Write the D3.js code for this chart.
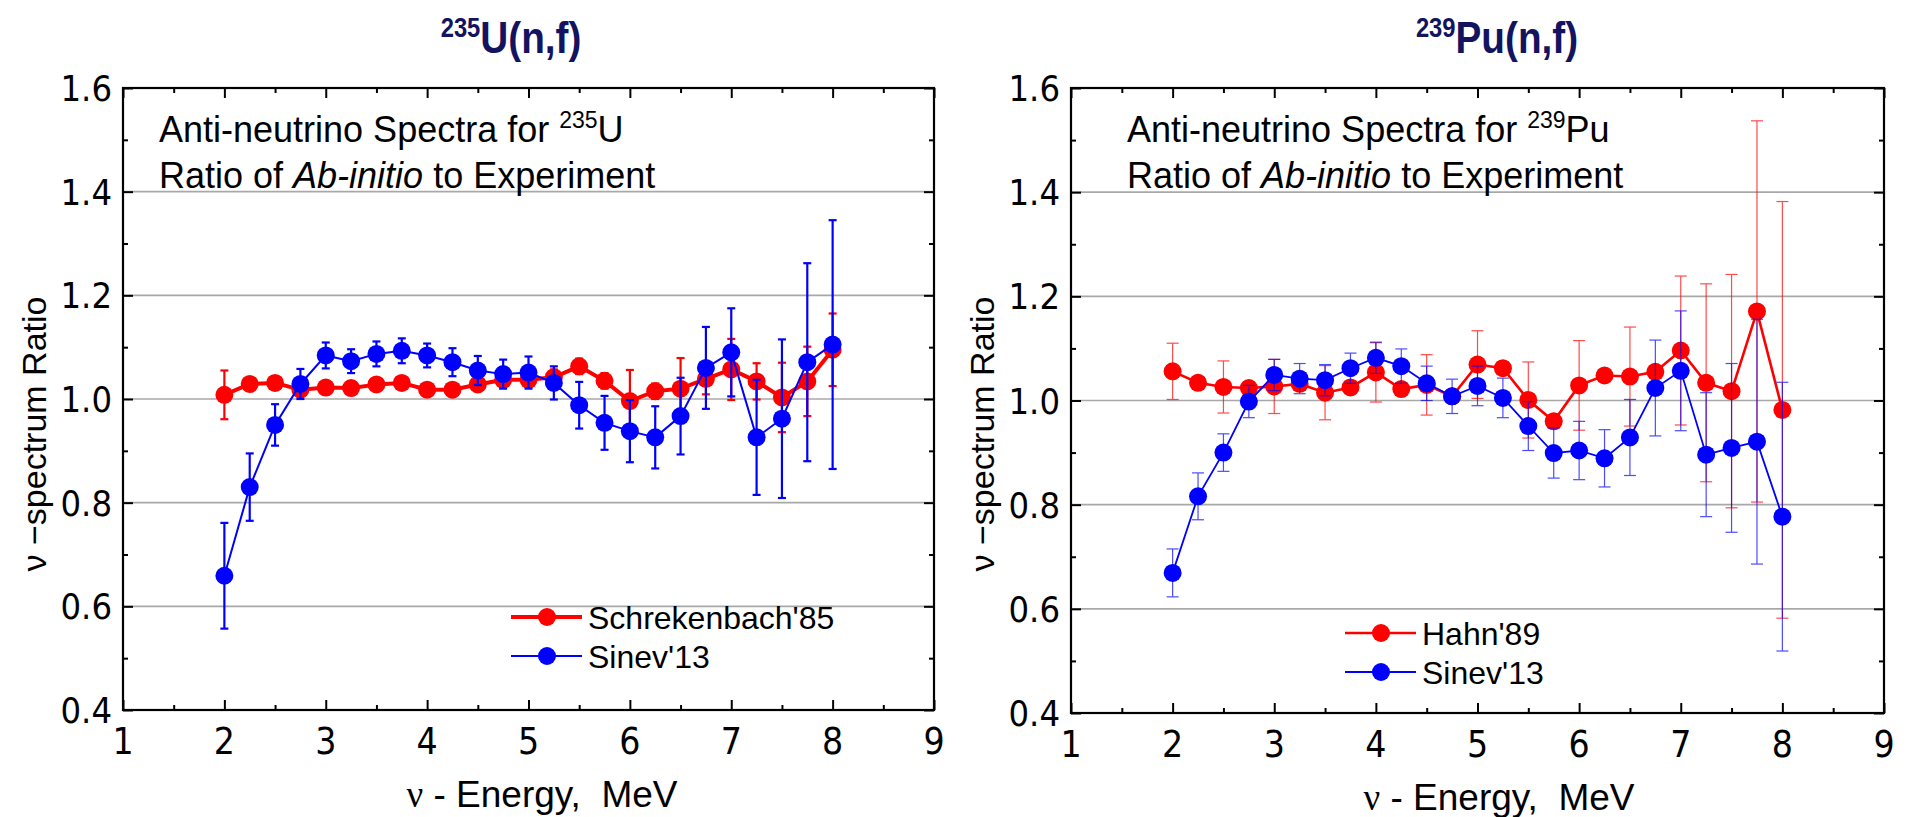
<!DOCTYPE html>
<html>
<head>
<meta charset="utf-8">
<script src="https://cdn.jsdelivr.net/npm/d3@7"></script>
<style>
  body { margin: 0; background: #fff; }
  svg { display: block; font-family: "Liberation Sans", Arial, sans-serif; }
  .narrow { font-family: "Liberation Sans Narrow", "Arial Narrow", "DejaVu Sans Condensed", sans-serif; }
</style>
</head>
<body>
<svg width="1907" height="817"></svg>
<script>
// energies (MeV)
const energy = [2, 2.25, 2.5, 2.75, 3, 3.25, 3.5, 3.75, 4, 4.25, 4.5, 4.75, 5,
  5.25, 5.5, 5.75, 6, 6.25, 6.5, 6.75, 7, 7.25, 7.5, 7.75, 8];

// 235U ratios
const u235Schreck = [1.008, 1.029, 1.031, 1.018, 1.022, 1.021, 1.028, 1.031, 1.018, 1.018, 1.028, 1.037, 1.037,
  1.042, 1.063, 1.035, 0.996, 1.015, 1.020, 1.039, 1.057, 1.034, 1.003, 1.034, 1.095];
const u235SchreckErr = [0.047, 0.008, 0.008, 0.008, 0.008, 0.008, 0.008, 0.008, 0.008, 0.008, 0.008, 0.010, 0.012,
  0.015, 0.015, 0.015, 0.060, 0.015, 0.059, 0.030, 0.059, 0.035, 0.067, 0.067, 0.070];
const u235Sinev = [0.659, 0.830, 0.950, 1.029, 1.084, 1.073, 1.087, 1.093, 1.084, 1.071, 1.055, 1.048, 1.051,
  1.031, 0.988, 0.954, 0.938, 0.926, 0.967, 1.060, 1.090, 0.926, 0.962, 1.071, 1.105];
const u235SinevErr = [0.102, 0.065, 0.040, 0.029, 0.025, 0.023, 0.024, 0.024, 0.023, 0.027, 0.028, 0.028, 0.031,
  0.032, 0.045, 0.052, 0.060, 0.060, 0.074, 0.079, 0.085, 0.111, 0.153, 0.191, 0.240];

// 239Pu ratios
const pu239Hahn = [1.056, 1.034, 1.026, 1.024, 1.027, 1.032, 1.015, 1.025, 1.054, 1.022, 1.030, 1.008, 1.069,
  1.062, 1.001, 0.960, 1.029, 1.048, 1.046, 1.055, 1.096, 1.034, 1.018, 1.171, 0.982];
const pu239HahnErr = [0.054, 0.012, 0.050, 0.012, 0.052, 0.012, 0.052, 0.012, 0.057, 0.012, 0.058, 0.012, 0.065,
  0.012, 0.073, 0.012, 0.086, 0.012, 0.095, 0.012, 0.143, 0.190, 0.224, 0.366, 0.400];
const pu239Sinev = [0.669, 0.816, 0.900, 0.998, 1.049, 1.042, 1.039, 1.062, 1.082, 1.066, 1.033, 1.008, 1.028,
  1.005, 0.951, 0.899, 0.904, 0.889, 0.929, 1.024, 1.057, 0.896, 0.909, 0.921, 0.777];
const pu239SinevErr = [0.046, 0.045, 0.036, 0.031, 0.030, 0.029, 0.030, 0.029, 0.030, 0.033, 0.033, 0.033, 0.038,
  0.038, 0.047, 0.048, 0.056, 0.055, 0.073, 0.092, 0.115, 0.119, 0.162, 0.235, 0.258];

// axis ticks
const xTicks = [1, 2, 3, 4, 5, 6, 7, 8, 9];
const yTicks = [0.4, 0.6, 0.8, 1.0, 1.2, 1.4, 1.6];
const gridVals = [0.6, 0.8, 1.0, 1.2, 1.4];

const svg = d3.select("svg");
const RED = "#ff0000", BLUE = "#0000ff";

const panels = [
  { left: 123, right: 934, top: 88, bottom: 710, mass: "235", el: "U",
    titleX: 511, noteX: 159, xlabX: 542, legendX: 511, legendY: 617,
    series: [
      { name: "Schrekenbach'85", y: u235Schreck, err: u235SchreckErr, color: RED, lw: 4, ew: 2.2, cap: 8, eop: 1 },
      { name: "Sinev'13", y: u235Sinev, err: u235SinevErr, color: BLUE, lw: 2, ew: 2.2, cap: 8, eop: 1 }
    ] },
  { left: 1071, right: 1884, top: 88, bottom: 713, mass: "239", el: "Pu",
    titleX: 1497, noteX: 1127, xlabX: 1499, legendX: 1345, legendY: 633,
    series: [
      { name: "Hahn'89", y: pu239Hahn, err: pu239HahnErr, color: RED, lw: 2.6, ew: 1.2, cap: 12, eop: 0.7 },
      { name: "Sinev'13", y: pu239Sinev, err: pu239SinevErr, color: BLUE, lw: 1.8, ew: 1.2, cap: 12, eop: 0.7 }
    ] }
];

panels.forEach(function(p) {
  const x = d3.scaleLinear().domain([1, 9]).range([p.left, p.right]);
  const y = d3.scaleLinear().domain([0.4, 1.6]).range([p.bottom, p.top]);
  const g = svg.append("g");

  // grid
  g.selectAll(".grid").data(gridVals).join("line")
    .attr("x1", p.left).attr("x2", p.right)
    .attr("y1", d => y(d)).attr("y2", d => y(d))
    .attr("stroke", "#a8a8a8").attr("stroke-width", 1.6);

  // axes with inward ticks on all four sides
  const tk = g => g.call(s => s.select(".domain").remove())
    .call(s => s.selectAll("text").remove())
    .call(s => s.selectAll("line").attr("stroke", "#000").attr("stroke-width", 2));
  const minorX = d3.range(1.5, 9, 1), minorY = d3.range(0.5, 1.6, 0.2);
  g.append("g").attr("transform", `translate(0,${p.bottom})`).call(d3.axisTop(x).tickValues(xTicks).tickSize(10)).call(tk);
  g.append("g").attr("transform", `translate(0,${p.bottom})`).call(d3.axisTop(x).tickValues(minorX).tickSize(5)).call(tk);
  g.append("g").attr("transform", `translate(0,${p.top})`).call(d3.axisBottom(x).tickValues(xTicks).tickSize(10)).call(tk);
  g.append("g").attr("transform", `translate(0,${p.top})`).call(d3.axisBottom(x).tickValues(minorX).tickSize(5)).call(tk);
  g.append("g").attr("transform", `translate(${p.left},0)`).call(d3.axisRight(y).tickValues(yTicks).tickSize(10)).call(tk);
  g.append("g").attr("transform", `translate(${p.left},0)`).call(d3.axisRight(y).tickValues(minorY).tickSize(5)).call(tk);
  g.append("g").attr("transform", `translate(${p.right},0)`).call(d3.axisLeft(y).tickValues(yTicks).tickSize(10)).call(tk);
  g.append("g").attr("transform", `translate(${p.right},0)`).call(d3.axisLeft(y).tickValues(minorY).tickSize(5)).call(tk);

  g.append("rect").attr("x", p.left).attr("y", p.top)
    .attr("width", p.right - p.left).attr("height", p.bottom - p.top)
    .attr("fill", "none").attr("stroke", "#000").attr("stroke-width", 2.2);

  // tick labels
  g.selectAll(".xl").data(xTicks).join("text").attr("class", "narrow")
    .attr("x", d => x(d)).attr("y", p.bottom + 44)
    .attr("text-anchor", "middle").attr("font-size", 37).text(d => d);
  g.selectAll(".yl").data(yTicks).join("text").attr("class", "narrow")
    .attr("x", p.left - 11).attr("y", d => y(d) + 13)
    .attr("text-anchor", "end").attr("font-size", 36).text(d => d.toFixed(1));

  // axis titles
  const xl = g.append("text").attr("x", p.xlabX).attr("y", p.bottom + 97)
    .attr("text-anchor", "middle").attr("font-size", 37);
  xl.append("tspan").attr("font-family", "'Liberation Serif', 'Times New Roman', serif").text("ν");
  xl.append("tspan").attr("xml:space", "preserve").text(" - Energy,  MeV");
  g.append("text").attr("transform", `translate(${p.left - 77},434) rotate(-90)`)
    .attr("text-anchor", "middle").attr("font-size", 34).text("ν −spectrum Ratio");

  // panel title (bold, squeezed a little)
  const t = svg.append("text").attr("transform", `translate(${p.titleX},53) scale(0.88,1)`)
    .attr("text-anchor", "middle")
    .attr("font-weight", "bold").attr("font-size", 44).attr("fill", "#13135f");
  t.append("tspan").attr("font-size", 27).attr("dy", -16).text(p.mass);
  t.append("tspan").attr("dy", 16).text(p.el + "(n,f)");

  // annotation
  const a1 = g.append("text").attr("x", p.noteX).attr("y", 142).attr("font-size", 36);
  a1.append("tspan").text("Anti-neutrino Spectra for ");
  a1.append("tspan").attr("font-size", 23).attr("dy", -14).text(p.mass);
  a1.append("tspan").attr("dy", 14).text(p.el);
  const a2 = g.append("text").attr("x", p.noteX).attr("y", 188).attr("font-size", 36);
  a2.append("tspan").text("Ratio of ");
  a2.append("tspan").attr("font-style", "italic").text("Ab-initio");
  a2.append("tspan").text(" to Experiment");

  // series
  p.series.forEach(function(s, i) {
    const pts = energy.map((e, k) => ({ e: e, v: s.y[k], d: s.err[k] }));
    const eg = g.append("g").attr("stroke", s.color).attr("stroke-width", s.ew).attr("opacity", s.eop);
    eg.selectAll(".bar").data(pts).join("line")
      .attr("x1", d => x(d.e)).attr("x2", d => x(d.e))
      .attr("y1", d => y(d.v - d.d)).attr("y2", d => y(d.v + d.d));
    eg.selectAll(".capT").data(pts).join("line")
      .attr("x1", d => x(d.e) - s.cap / 2).attr("x2", d => x(d.e) + s.cap / 2)
      .attr("y1", d => y(d.v + d.d)).attr("y2", d => y(d.v + d.d));
    eg.selectAll(".capB").data(pts).join("line")
      .attr("x1", d => x(d.e) - s.cap / 2).attr("x2", d => x(d.e) + s.cap / 2)
      .attr("y1", d => y(d.v - d.d)).attr("y2", d => y(d.v - d.d));

    g.append("path").datum(pts)
      .attr("d", d3.line().x(d => x(d.e)).y(d => y(d.v)))
      .attr("fill", "none").attr("stroke", s.color).attr("stroke-width", s.lw);
    g.selectAll(".m" + i).data(pts).join("circle")
      .attr("cx", d => x(d.e)).attr("cy", d => y(d.v)).attr("r", 9).attr("fill", s.color);

    // legend entry
    const ly = p.legendY + i * 39;
    g.append("line").attr("x1", p.legendX).attr("x2", p.legendX + 71)
      .attr("y1", ly).attr("y2", ly).attr("stroke", s.color).attr("stroke-width", s.lw);
    g.append("circle").attr("cx", p.legendX + 36).attr("cy", ly).attr("r", 9).attr("fill", s.color);
    g.append("text").attr("x", p.legendX + 77).attr("y", ly + 12).attr("font-size", 32).text(s.name);
  });
});
</script>
</body>
</html>
